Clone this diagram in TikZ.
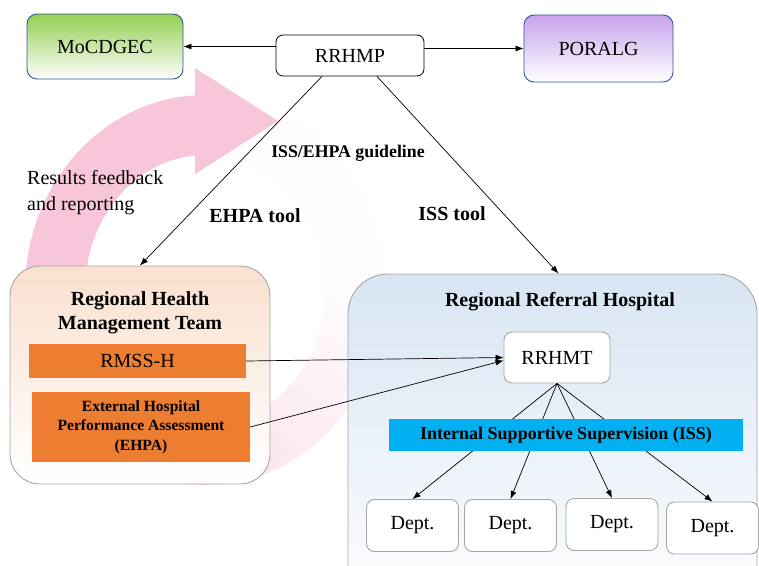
\documentclass[tikz,border=0pt]{standalone}
\usepackage{fontspec}
\setmainfont{Liberation Serif}
\usetikzlibrary{arrows.meta,calc,positioning}
\definecolor{mocgreen}{HTML}{92D050}
\definecolor{poralgpurple}{HTML}{C7A3EC}
\definecolor{govblue}{HTML}{2F5597}
\definecolor{boxgray}{HTML}{A6A6A6}
\definecolor{rhmtpeach}{HTML}{FAE0CF}
\definecolor{rrhblue}{HTML}{D8E5F4}
\definecolor{assessorange}{HTML}{ED7D31}
\definecolor{isscyan}{HTML}{00B0F0}
\definecolor{cyclepink}{HTML}{F8C6DB}
\newcommand{\bodyfont}{\fontsize{20}{24}\selectfont}

\begin{document}
\begin{tikzpicture}[x=1pt,y=-1pt,
    govbox/.style={draw=govblue,line width=0.9pt,rounded corners=10pt,bottom color=white,font=\bodyfont},
    plainbox/.style={draw=black,line width=0.8pt,rounded corners=7pt,fill=white,font=\bodyfont},
    unitbox/.style={draw=boxgray,line width=0.9pt,rounded corners=8pt,fill=white,font=\bodyfont},
    panel/.style={draw=boxgray,line width=0.9pt},
    orangebar/.style={fill=assessorange,inner sep=0pt,align=center},
    toollabel/.style={font=\fontsize{20}{24}\selectfont\bfseries},
    flow/.style={-{Latex[length=8pt,width=6pt]},line width=0.7pt}]
  \useasboundingbox (0,0) rectangle (759,565);
  \clip (0,0) rectangle (759,565);

  % Feedback cycle (fading ring)
  \foreach \a in {93,96,...,438} {
    \pgfmathsetmacro\pct{\a<235 ? 100 : (\a<300 ? 100-(\a-235) : max(3,35-(\a-300)*0.5))}
    \fill[cyclepink!\pct!white] ({205+180*cos(\a)},{290-195*sin(\a)})
      -- ({205+180*cos(\a+3.5)},{290-195*sin(\a+3.5)})
      -- ({205+120*cos(\a+3.5)},{290-135*sin(\a+3.5)})
      -- ({205+120*cos(\a)},{290-135*sin(\a)}) -- cycle;
  }
  % Cycle head
  \fill[cyclepink] (195,68) -- (278,121) -- (195,174) -- cycle;

  % Top level
  \node[govbox,top color=mocgreen,minimum width=156pt,minimum height=65pt] (moc) at (105,46.5) {MoCDGEC};
  \node[plainbox,minimum width=148pt,minimum height=41pt] (rrhmp) at (350,55.5) {RRHMP};
  \node[govbox,top color=poralgpurple,minimum width=149pt,minimum height=67pt] (poralg) at (598.5,48.5) {PORALG};

  % Labels
  \node[font=\fontsize{17.8}{21}\selectfont\bfseries] (guide) at (348,153) {ISS/EHPA guideline};
  \node[toollabel] (ehpatool) at (255,216) {EHPA tool};
  \node[toollabel] (isstool) at (452,214) {ISS tool};
  \node[font=\fontsize{20}{26}\selectfont,align=left,anchor=west,inner sep=0pt] (feedback) at (27,193) {Results feedback\\and reporting};

  % Regional Health Management Team
  \node[panel,rounded corners=30pt,top color=rhmtpeach,bottom color=white,minimum width=260pt,minimum height=218pt] (rhmt) at (140,375) {};
  \node[font=\bodyfont\bfseries,align=center] (rhmttitle) at (140,313) {Regional Health\\Management Team};
  \node[orangebar,font=\bodyfont,minimum width=217pt,minimum height=34pt] (rmss) at (137.5,361) {RMSS-H};
  \node[orangebar,font=\fontsize{15.6}{19.5}\selectfont\bfseries,minimum width=218pt,minimum height=70pt] (ehpa) at (141,427) {External Hospital\\Performance Assessment\\(EHPA)};

  % Regional Referral Hospital
  \node[panel,rounded corners=40pt,top color=rrhblue,bottom color=white,minimum width=409pt,minimum height=346pt] (rrh) at (552.5,447) {};
  \node[font=\bodyfont\bfseries] (rrhtitle) at (560,302) {Regional Referral Hospital};
  \node[unitbox,minimum width=106pt,minimum height=51pt] (rrhmt) at (557,357.5) {RRHMT};
  \node[unitbox,minimum width=92pt,minimum height=52pt] (dept1) at (412.5,525.5) {Dept.};
  \node[unitbox,minimum width=92pt,minimum height=52pt] (dept2) at (510.5,525.5) {Dept.};
  \node[unitbox,minimum width=92pt,minimum height=52pt] (dept3) at (612,524.5) {Dept.};
  \node[unitbox,minimum width=92pt,minimum height=52pt] (dept4) at (712.5,528) {Dept.};

  % Connectors
  \draw[flow] (rrhmp.west |- moc.east) -- (moc.east);
  \draw[flow] (rrhmp.east |- poralg.west) -- (poralg.west);
  \draw[flow] ($(rrhmp.south)+(-28,0)$) -- (rhmt.north);
  \draw[flow] ($(rrhmp.south)+(27,0)$) -- ($(rrh.north)+(6,0)$);
  \draw[flow] (rmss.east) -- (rrhmt.west);
  \draw[flow] (ehpa.east) -- ($(rrhmt.west)+(0,3)$);
  \foreach \d in {1,...,4}
    \draw[flow] (rrhmt.south) -- (dept\d.north);

  % ISS bar over the lines
  \node[fill=isscyan,inner sep=0pt,font=\fontsize{18}{22}\selectfont\bfseries,minimum width=354pt,minimum height=32pt] (iss) at (566,435) {Internal Supportive Supervision (ISS)};
\end{tikzpicture}
\end{document}
